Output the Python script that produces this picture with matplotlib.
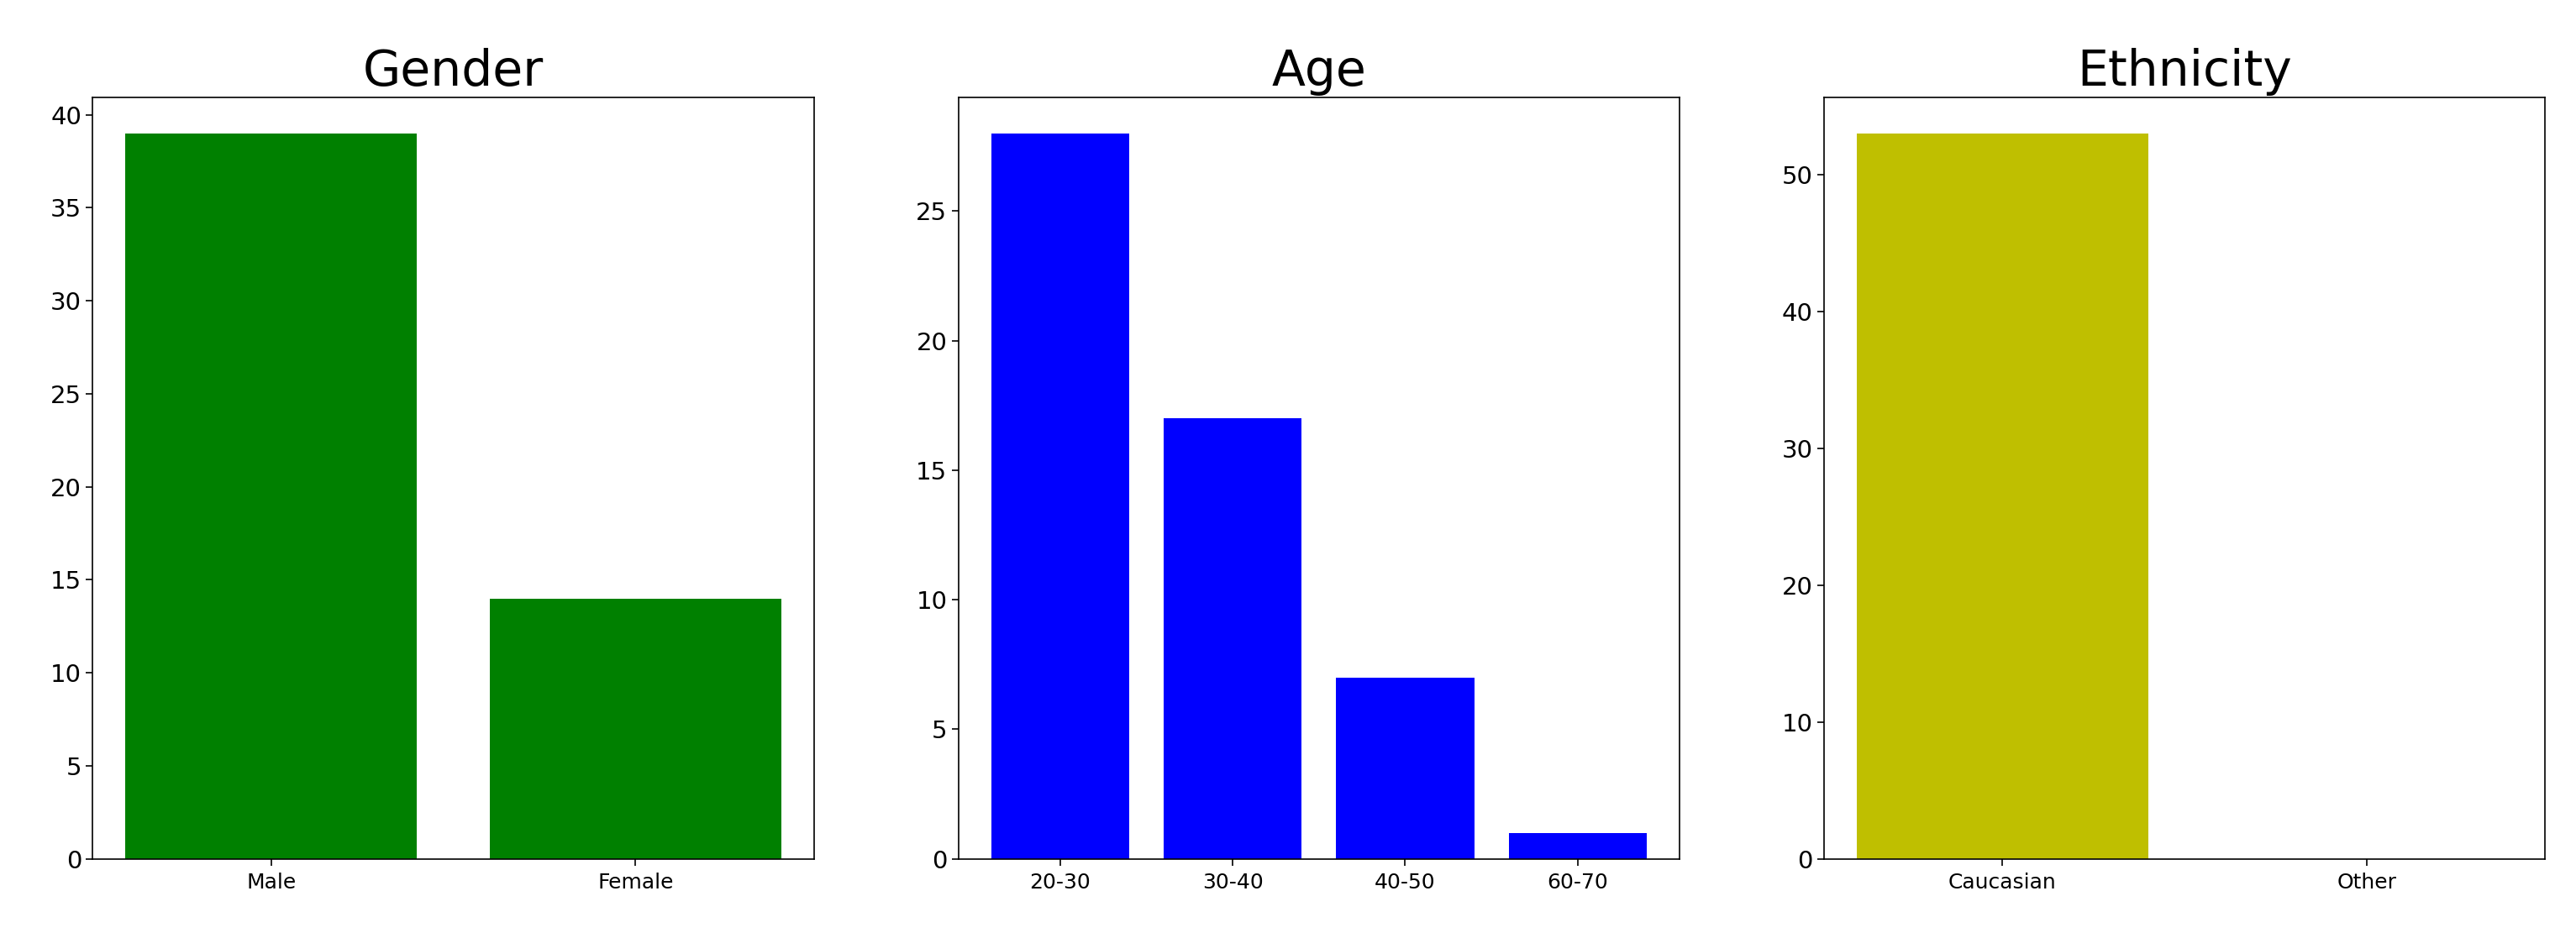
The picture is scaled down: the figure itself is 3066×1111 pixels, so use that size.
import matplotlib
matplotlib.use("Agg")
import matplotlib.pyplot as plt

gender_labels = ["Male", "Female"]
gender_counts = [39, 14]

age_labels = ["20-30", "30-40", "40-50", "60-70"]
age_counts = [28, 17, 7, 1]

ethnicity_labels = ["Caucasian", "Other"]
ethnicity_counts = [53, 0]

fig, axes = plt.subplots(1, 3, figsize=(30.66, 11.11), dpi=100)
fig.subplots_adjust(left=0.036, right=0.988, bottom=0.0795, top=0.896, wspace=0.2)

panels = [
    ("Gender", gender_labels, gender_counts, "g"),
    ("Age", age_labels, age_counts, "b"),
    ("Ethnicity", ethnicity_labels, ethnicity_counts, "y"),
]

for ax, (title, labels, counts, color) in zip(axes, panels):
    ax.bar(labels, counts, color=color)
    ax.set_title(title, fontsize=42, pad=10)
    ax.tick_params(axis="y", labelsize=21, length=6, width=1.2)
    ax.tick_params(axis="x", labelsize=18, length=6, width=1.2, pad=6)
    for spine in ax.spines.values():
        spine.set_linewidth(1.2)

fig.savefig("out.png", dpi=100)
